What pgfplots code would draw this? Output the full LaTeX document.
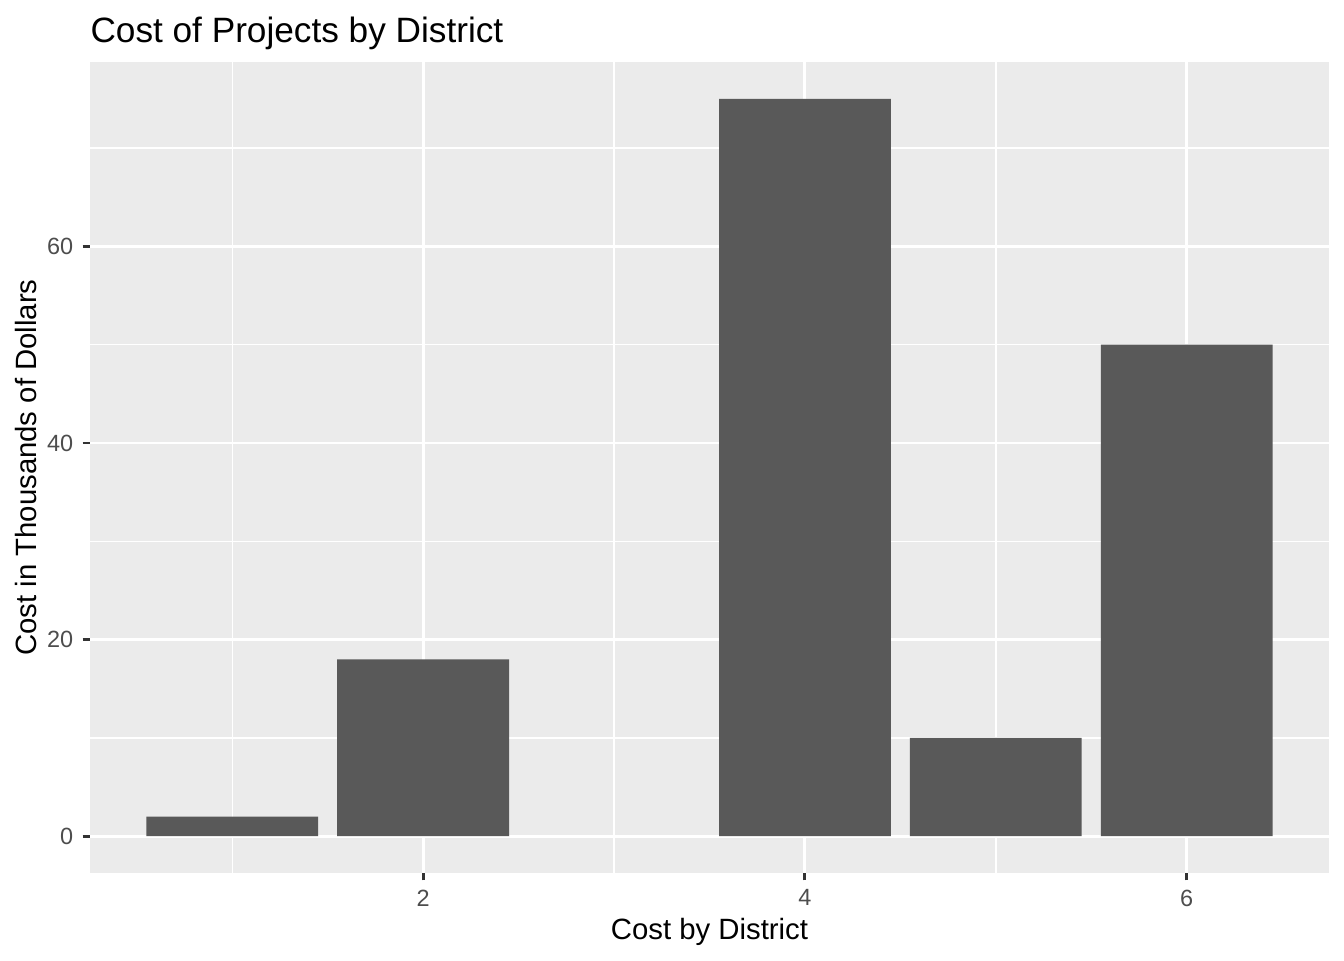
\documentclass[border=0pt]{standalone}
\usepackage{pgfplots}
\pgfplotsset{compat=1.18}
\usepackage{fontspec}
\setmainfont{Liberation Sans}
\definecolor{panelbg}{HTML}{EBEBEB}
\definecolor{barfill}{HTML}{595959}
\definecolor{ticktext}{HTML}{4D4D4D}
\definecolor{tickline}{HTML}{333333}
\begin{document}
\begin{tikzpicture}
\path[use as bounding box] (0,0) rectangle (504pt,360pt);
\begin{axis}[
    at={(33.75pt,32.6pt)}, anchor=south west,
    scale only axis,
    width=464.6pt, height=304.1pt,
    xmin=0.255, xmax=6.745,
    ymin=-3.75, ymax=78.75,
    xtick={2,4,6}, minor xtick={1,3,5},
    ytick={0,20,40,60}, minor ytick={10,30,50,70},
    axis line style={draw=none},
    axis background/.style={fill=panelbg},
    grid=both,
    major grid style={white, line width=1.07pt},
    minor grid style={white, line width=0.53pt},
    tick align=outside,
    major tick length=2.75pt,
    minor tick length=0pt,
    major tick style={tickline, line width=1.07pt},
    xtick pos=bottom, ytick pos=left,
    /pgf/number format/assume math mode=true,
    tick label style={font=\fontsize{8.8}{10}\selectfont, text=ticktext},
    title={Cost of Projects by District},
    title style={at={(axis description cs:0,1)}, anchor=base west, yshift=1.5pt, font=\fontsize{13.2}{15}\selectfont, inner sep=0pt},
    xlabel={Cost by District},
    xlabel style={at={(axis description cs:0.5,0)}, anchor=base, yshift=-25pt, font=\fontsize{11}{13}\selectfont, inner sep=0pt},
    ylabel={Cost in Thousands of Dollars},
    ylabel style={at={(axis description cs:0,0.5)}, anchor=base, yshift=19.9pt, font=\fontsize{11}{13}\selectfont, inner sep=0pt},
]
\addplot[ybar, bar width=0.9, bar shift=0pt, fill=barfill, draw=none]
    coordinates {(1,2) (2,18) (4,75) (5,10) (6,50)};
\end{axis}
\end{tikzpicture}
\end{document}
